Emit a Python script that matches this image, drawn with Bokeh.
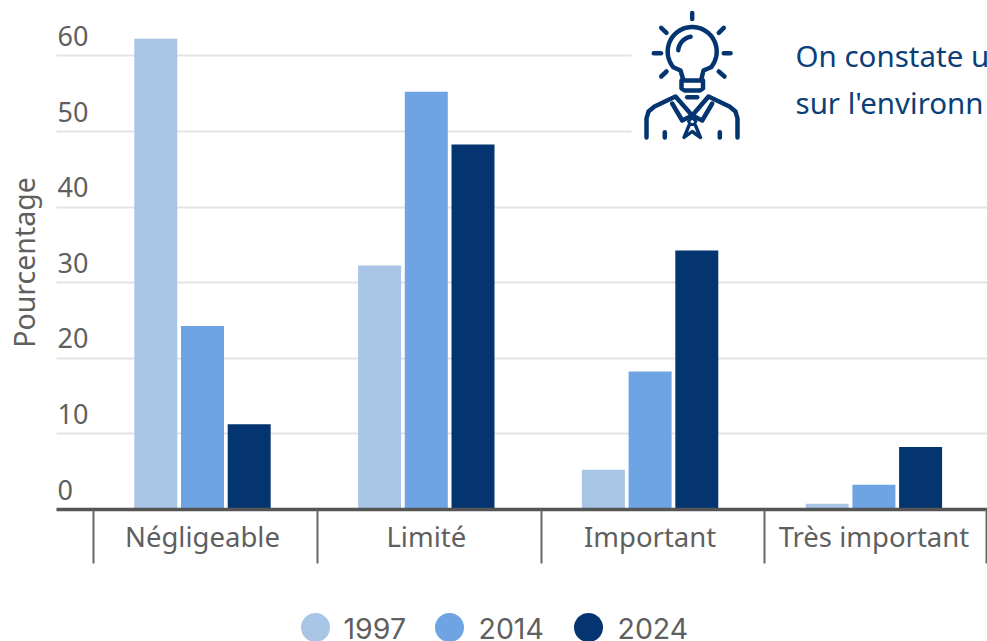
import math
import numpy as np
from bokeh.core.properties import value
from bokeh.embed import file_html
from bokeh.layouts import column
from bokeh.models import FixedTicker, Grid, Label, LinearAxis, Range1d
from bokeh.plotting import figure
from bokeh.resources import INLINE
from bokeh.transform import dodge

categories = ["Négligeable", "Limité", "Important", "Très important"]
years = ["1997", "2014", "2024"]
v1997 = [62, 32, 5, 0.5]
v2014 = [24, 55, 18, 3]
v2024 = [11, 48, 34, 8]
y_ticks = [0, 10, 20, 30, 40, 50, 60]
colors = ["#a9c5e5", "#6fa4e4", "#053570"]
ylabel = "Pourcentage"
note_lines = ["On constate u", "sur l'environn"]

FONT = "Noto Sans"
GREY = "#5f5f5f"
NAVY = "#0b3f78"

W, H, H_TOP = 987, 641, 565
PLOT_L, FRAME_R, FRAME_T, FRAME_B = 56, 987, 0, 509
PX_PER_CAT, CAT0_PX = 223.8, 202.0
PX_PER_UNIT = 7.56

def X(px):
    return (px - CAT0_PX) / PX_PER_CAT

def Y(py):
    return (FRAME_B - py) / PX_PER_UNIT

p = figure(
    width=W, height=H_TOP, output_backend="svg", toolbar_location=None,
    x_range=Range1d(X(0), X(FRAME_R)), y_range=Range1d(0, Y(FRAME_T)),
    min_border_left=0, min_border_right=0, min_border_top=0,
    min_border_bottom=H_TOP - FRAME_B, x_axis_type=None, y_axis_type=None,
    background_fill_color="white", border_fill_color="white",
)
p.outline_line_color = None

p.add_layout(Grid(dimension=1, ticker=FixedTicker(ticks=y_ticks), grid_line_color="#e3e3e3", grid_line_width=2))

# white masks: left of the plot area, and the callout behind the note
p.quad(left=[X(0), X(631)], right=[X(PLOT_L), X(FRAME_R)], top=[Y(FRAME_T)] * 2, bottom=[0.5, Y(170)],
       fill_color="white", line_color=None)

# x axis: labels on major ticks, category boundaries on minor ticks
cat_pos = list(range(len(categories)))
bounds = [-0.487, 0.513, 1.513, 2.513, 3.503]
xax = LinearAxis(
    ticker=FixedTicker(ticks=cat_pos, minor_ticks=bounds),
    bounds=(X(PLOT_L), X(FRAME_R)),
    major_label_overrides={i: c for i, c in zip(cat_pos, categories)},
    major_tick_line_color=None, major_tick_out=0, major_tick_in=0,
    minor_tick_line_color="#666666", minor_tick_line_width=2, minor_tick_out=54, minor_tick_in=0,
    axis_line_color="#555555", axis_line_width=3.5,
    major_label_text_font=FONT, major_label_text_font_size="27.5px",
    major_label_text_color=GREY, major_label_standoff=-46,
)
p.add_layout(xax, "below")

# bars (a same-coloured stroke gives the slightly raised tops of the reference)
offs = [-46.7 / PX_PER_CAT, 0, 46.7 / PX_PER_CAT]
src = {"x": cat_pos, "1997": v1997, "2014": v2014, "2024": v2024}
for yr, col, off in zip(years, colors, offs):
    p.vbar(x=dodge("x", off), top=yr, bottom=0, width=39 / PX_PER_CAT, source=src,
           fill_color=col, line_color=col, line_width=4, line_join="miter")

# y tick labels, sitting above their grid lines
p.text(x=[X(57)] * len(y_ticks), y=y_ticks, text=[str(t) for t in y_ticks],
       text_font=value(FONT), text_font_size="27px", text_color=GREY,
       text_align="left", text_baseline="alphabetic", y_offset=-20)

p.add_layout(Label(x=23, y=FRAME_B - 262, x_units="screen", y_units="screen", text=ylabel,
                   angle=math.pi / 2, text_align="center", text_baseline="middle",
                   text_font=FONT, text_font_size="28.5px", text_color=GREY))

# note text
p.text(x=[X(795)] * 2, y=[Y(55), Y(102)], text=note_lines, text_font=value(FONT),
       text_font_size="29.5px", text_color=NAVY, text_align="left", text_baseline="alphabetic")

# icon: light bulb above a figure in a tie
IC = "#053570"
def stroke(pts, w=4.5):
    xs, ys = zip(*pts)
    p.line([X(a) for a in xs], [Y(b) for b in ys], line_color=IC, line_width=w,
           line_cap="round", line_join="round")

cx, cy, r = 691.7, 51, 24.5
th = np.radians(np.linspace(-40, 220, 60))
bulb = [(cx + r * math.cos(t), cy - r * math.sin(t)) for t in th]
stroke([(700.5, 80), (703, 70)] + bulb + [(680, 70), (683, 80), (700.5, 80)])
stroke([(681, 80), (681, 88), (684, 90), (699.5, 90), (702.5, 88), (702.5, 80)])
th2 = np.radians(np.linspace(100, 175, 12))
stroke([(cx + 15 * math.cos(t) + 1, 51 - 15 * math.sin(t)) for t in th2])
for a, b in [((691.7, 12.5), (691.7, 18.5)), ((660.7, 27.3), (666, 32.3)), ((723.3, 27.3), (718.3, 32.3)),
             ((653.3, 52.7), (660.5, 52.7)), ((723.3, 52.7), (730, 52.7)), ((660.7, 76), (666, 71)),
             ((718.3, 71), (724, 76)), ((686.7, 96.7), (696.7, 96.7)),
             ((664.3, 131.7), (664.3, 137)), ((719.3, 131.7), (719.3, 137))]:
    stroke([a, b])
stroke([(646, 137), (646, 118), (648, 111), (654, 106), (675, 96), (691.7, 115), (708, 96),
        (729, 106), (735, 111), (737, 118), (737, 137)])
stroke([(671.7, 103), (681.7, 120), (691.7, 115), (701.7, 120), (711.7, 103)])
stroke([(688, 121), (691.7, 117), (695.5, 121), (693.5, 124), (690, 124), (688, 121)], 3)
stroke([(688.5, 125), (683.5, 137), (691.7, 131), (700, 137), (695, 125)], 3.4)

# legend strip
p2 = figure(
    width=W, height=H - H_TOP, output_backend="svg", toolbar_location=None,
    x_range=Range1d(0, W), y_range=Range1d(H, H_TOP), x_axis_type=None, y_axis_type=None,
    min_border_left=0, min_border_right=0, min_border_top=0, min_border_bottom=0,
    background_fill_color="white", border_fill_color="white",
)
p2.outline_line_color = None
p2.scatter(x=[315, 449, 588], y=[627] * 3, marker="circle", size=29, fill_color=colors, line_color=None)
p2.text(x=[343, 478, 617], y=[628] * 3, text=years, text_font=value("Inter"), text_font_size="28.5px",
        text_color=GREY, text_align="left", text_baseline="middle")

open("out.html", "w").write(file_html(column(p, p2, spacing=0), INLINE))
